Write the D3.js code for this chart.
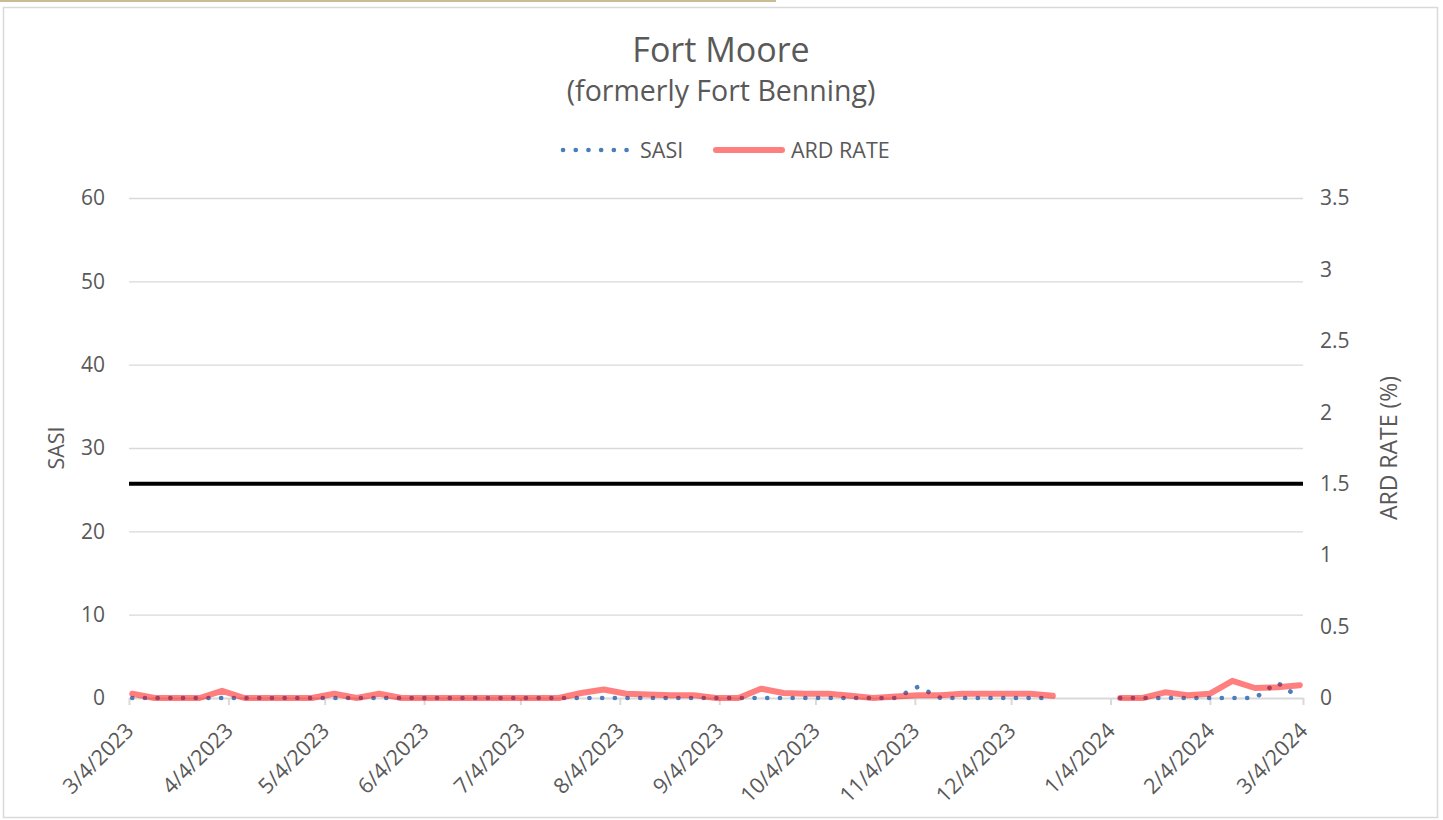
<!DOCTYPE html>
<html>
<head>
<meta charset="utf-8">
<script src="https://cdn.jsdelivr.net/npm/d3@7"></script>
<style>
    body { margin: 0; background: #fff; }
    text { font-family: 'Open Sans', 'Noto Sans', sans-serif; fill: #595959; }
</style>
</head>
<body>
<div id="chart"></div>
<script>
// weekly report dates (Sundays), 12/24 and 12/31 not reported
const dates = [
    '2023-03-05', '2023-03-12', '2023-03-19', '2023-03-26', '2023-04-02', '2023-04-09',
    '2023-04-16', '2023-04-23', '2023-04-30', '2023-05-07', '2023-05-14', '2023-05-21',
    '2023-05-28', '2023-06-04', '2023-06-11', '2023-06-18', '2023-06-25', '2023-07-02',
    '2023-07-09', '2023-07-16', '2023-07-23', '2023-07-30', '2023-08-06', '2023-08-13',
    '2023-08-20', '2023-08-27', '2023-09-03', '2023-09-10', '2023-09-17', '2023-09-24',
    '2023-10-01', '2023-10-08', '2023-10-15', '2023-10-22', '2023-10-29', '2023-11-05',
    '2023-11-12', '2023-11-19', '2023-11-26', '2023-12-03', '2023-12-10', '2023-12-17',
    '2023-12-24', '2023-12-31', '2024-01-07', '2024-01-14', '2024-01-21', '2024-01-28',
    '2024-02-04', '2024-02-11', '2024-02-18', '2024-02-25', '2024-03-03'
];

const sasi = [
    0, 0, 0, 0, 0, 0, 0, 0, 0, 0, 0, 0,
    0, 0, 0, 0, 0, 0, 0, 0, 0, 0, 0, 0,
    0, 0, 0, 0, 0, 0, 0, 0, 0, 0, 0, 1.35,
    0, 0, 0, 0, 0, 0, null, null, 0, 0, 0, 0,
    0, 0, 0, 1.85, 0
];

const ardRate = [
    0.03, 0, 0, 0, 0.05, 0, 0, 0, 0, 0.03, 0, 0.03,
    0, 0, 0, 0, 0, 0, 0, 0, 0.035, 0.06, 0.03, 0.025,
    0.02, 0.02, 0, 0, 0.065, 0.035, 0.03, 0.03, 0.015, 0, 0.01, 0.02,
    0.02, 0.03, 0.03, 0.03, 0.03, 0.015, null, null, 0, 0, 0.04, 0.02,
    0.03, 0.12, 0.07, 0.075, 0.09
];

const threshold = 1.5; // ARD RATE reference line

const xTicks = [
    '2023-03-04', '2023-04-04', '2023-05-04', '2023-06-04', '2023-07-04', '2023-08-04',
    '2023-09-04', '2023-10-04', '2023-11-04', '2023-12-04', '2024-01-04', '2024-02-04',
    '2024-03-04'
];
const leftTicks = [0, 10, 20, 30, 40, 50, 60];
const rightTicks = [0, 0.5, 1, 1.5, 2, 2.5, 3, 3.5];

const parse = d3.utcParse('%Y-%m-%d');
const fmt = d3.utcFormat('%-m/%-d/%Y');

const data = dates.map((d, i) => ({ date: parse(d), sasi: sasi[i], ard: ardRate[i] }));

const svgWidth = 1443;
const svgHeight = 820;
const margin = { top: 198, left: 129, bottom: 122, right: 140 };

const svg = d3
    .select('#chart')
    .append('svg')
    .attr('width', svgWidth)
    .attr('height', svgHeight);

// tan strip at the top and chart frame
svg.append('rect').attr('x', 0).attr('y', 0).attr('width', 776).attr('height', 2).attr('fill', '#c9bd95');
svg.append('rect')
    .attr('x', 3.5)
    .attr('y', 7.5)
    .attr('width', 1434)
    .attr('height', 810)
    .attr('fill', 'none')
    .attr('stroke', '#d9d9d9')
    .attr('stroke-width', 1.5);

const x = d3
    .scaleUtc()
    .domain([parse(xTicks[0]), parse(xTicks[xTicks.length - 1])])
    .range([margin.left, svgWidth - margin.right]);

const yL = d3.scaleLinear().domain([0, 60]).range([svgHeight - margin.bottom, margin.top]);
const yR = d3.scaleLinear().domain([0, 3.5]).range([svgHeight - margin.bottom, margin.top]);

// gridlines
svg.append('g')
    .attr('transform', `translate(${margin.left}, 0)`)
    .call(d3.axisLeft(yL).tickValues(leftTicks.slice(1)).tickSize(-(x.range()[1] - x.range()[0])).tickFormat(''))
    .call(g => g.select('.domain').remove())
    .call(g => g.selectAll('line').attr('stroke', '#d9d9d9').attr('stroke-width', 1.3));

// x axis
const xAxis = svg
    .append('g')
    .attr('transform', `translate(0, ${yL(0)})`)
    .call(d3.axisBottom(x).tickValues(xTicks.map(parse)).tickSize(7).tickSizeOuter(0).tickFormat(''));
xAxis.select('.domain').attr('stroke', '#d9d9d9').attr('stroke-width', 2);
xAxis.selectAll('line').attr('stroke', '#d9d9d9').attr('stroke-width', 2);

svg.append('g')
    .selectAll('text')
    .data(xTicks)
    .enter()
    .append('text')
    .attr('transform', d => `translate(${x(parse(d)) + 6}, ${yL(0) + 34}) rotate(-45)`)
    .attr('text-anchor', 'end')
    .style('font-size', '21.5px')
    .text(d => fmt(parse(d)));

// left axis labels
svg.append('g')
    .selectAll('text')
    .data(leftTicks)
    .enter()
    .append('text')
    .attr('x', 105)
    .attr('y', d => yL(d))
    .attr('dy', '0.35em')
    .attr('text-anchor', 'end')
    .style('font-size', '21px')
    .text(d => d);

// right axis labels
svg.append('g')
    .selectAll('text')
    .data(rightTicks)
    .enter()
    .append('text')
    .attr('x', 1320)
    .attr('y', d => yR(d))
    .attr('dy', '0.35em')
    .style('font-size', '21px')
    .text(d => d);

// axis titles
svg.append('text')
    .attr('transform', `translate(64, ${(yL(0) + yL(60)) / 2}) rotate(-90)`)
    .attr('text-anchor', 'middle')
    .style('font-size', '21.5px')
    .text('SASI');

svg.append('text')
    .attr('transform', `translate(1397, ${(yL(0) + yL(60)) / 2}) rotate(-90)`)
    .attr('text-anchor', 'middle')
    .style('font-size', '23px')
    .text('ARD RATE (%)');

// threshold line
svg.append('line')
    .attr('x1', x.range()[0])
    .attr('x2', x.range()[1])
    .attr('y1', yR(threshold))
    .attr('y2', yR(threshold))
    .attr('stroke', '#000')
    .attr('stroke-width', 4);

// SASI, dotted
const sasiLine = d3
    .line()
    .defined(d => d.sasi !== null)
    .x(d => x(d.date))
    .y(d => yL(d.sasi));

svg.append('path')
    .datum(data)
    .attr('d', sasiLine)
    .attr('fill', 'none')
    .attr('stroke', '#4a7ebb')
    .attr('stroke-width', 4.6)
    .attr('stroke-linecap', 'round')
    .attr('stroke-dasharray', '0.1 12.6');

// ARD RATE, translucent red
const ardLine = d3
    .line()
    .defined(d => d.ard !== null)
    .x(d => x(d.date))
    .y(d => yR(d.ard));

svg.append('path')
    .datum(data)
    .attr('d', ardLine)
    .attr('fill', 'none')
    .attr('stroke', '#ff0000')
    .attr('stroke-opacity', 0.5)
    .attr('stroke-width', 6)
    .attr('stroke-linecap', 'round')
    .attr('stroke-linejoin', 'round');

// titles
svg.append('text')
    .attr('x', 721)
    .attr('y', 62)
    .attr('text-anchor', 'middle')
    .style('font-size', '34px')
    .text('Fort Moore');

svg.append('text')
    .attr('x', 721)
    .attr('y', 101)
    .attr('text-anchor', 'middle')
    .style('font-size', '28.5px')
    .text('(formerly Fort Benning)');

// legend
const legend = svg.append('g');
legend.append('line')
    .attr('x1', 563).attr('x2', 630).attr('y1', 150).attr('y2', 150)
    .attr('stroke', '#4a7ebb')
    .attr('stroke-width', 4.6)
    .attr('stroke-linecap', 'round')
    .attr('stroke-dasharray', '0.1 12.6');
legend.append('text')
    .attr('x', 640).attr('y', 150).attr('dy', '0.35em')
    .style('font-size', '21.5px')
    .text('SASI');
legend.append('line')
    .attr('x1', 716).attr('x2', 782).attr('y1', 150).attr('y2', 150)
    .attr('stroke', '#ff0000')
    .attr('stroke-opacity', 0.5)
    .attr('stroke-width', 6)
    .attr('stroke-linecap', 'round');
legend.append('text')
    .attr('x', 791).attr('y', 150).attr('dy', '0.35em')
    .style('font-size', '21.5px')
    .text('ARD RATE');
</script>
</body>
</html>
